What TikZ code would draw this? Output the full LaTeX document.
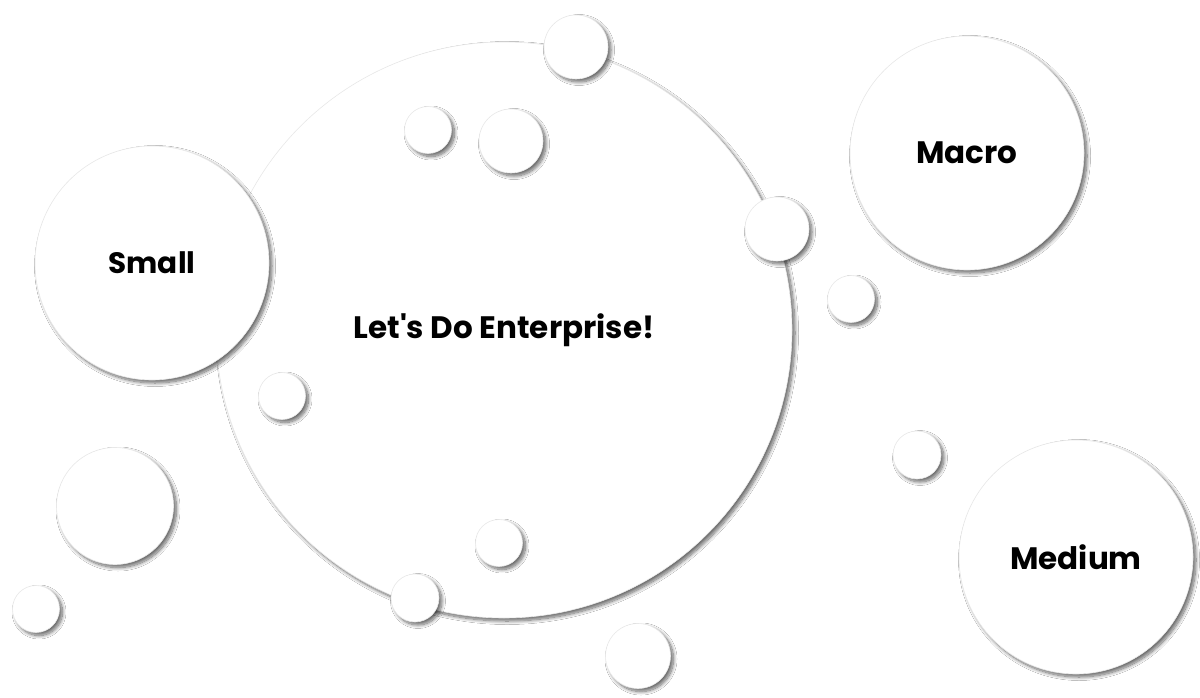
\documentclass[tikz,border=0pt]{standalone}
\usepackage{fontspec}
\newfontfamily\pop{Poppins}
\usetikzlibrary{shadows.blur}
\tikzset{
  bub/.style={circle, fill=white, draw=black!9, line width=0.6pt, inner sep=0pt,
    minimum size=#1,
    blur shadow={shadow xshift=3pt, shadow yshift=-3pt, shadow blur radius=3.5pt, shadow opacity=60, shadow blur steps=12}},
  lbl/.style={font=\pop\bfseries\fontsize{#1}{#1}\selectfont, text=black}
}
\begin{document}
\begin{tikzpicture}[x=1pt,y=-1pt]
\useasboundingbox[fill=white] (0,0) rectangle (1200,698);
% main circle
\node[bub=576pt] (big) at (504,330) {};
\node[lbl=31pt] (bigt) at (504,330) {Let's Do Enterprise!};
% labelled circles
\node[bub=234pt] (small) at (152,263) {};
\node[lbl=29.5pt] (smallt) at (152,263) {Small};
\node[bub=234pt] (macro) at (967,153) {};
\node[lbl=31pt] (macrot) at (967,153) {Macro};
\node[bub=234pt] (medium) at (1076,557) {};
\node[lbl=31pt] (mediumt) at (1076,557) {Medium};
% decorative bubbles
\node[bub=64pt] (b1) at (576,47) {};
\node[bub=47pt] (b2) at (428,130) {};
\node[bub=64pt] (b3) at (511,141) {};
\node[bub=64pt] (b4) at (777,229) {};
\node[bub=47pt] (b5) at (851,299) {};
\node[bub=47pt] (b6) at (282,396) {};
\node[bub=117pt] (b7) at (115,506) {};
\node[bub=47pt] (b8) at (36,609) {};
\node[bub=47pt] (b9) at (499,543) {};
\node[bub=48pt] (b10) at (415,598) {};
\node[bub=65pt] (b11) at (638,656) {};
\node[bub=48pt] (b12) at (917,455) {};
\end{tikzpicture}
\end{document}
